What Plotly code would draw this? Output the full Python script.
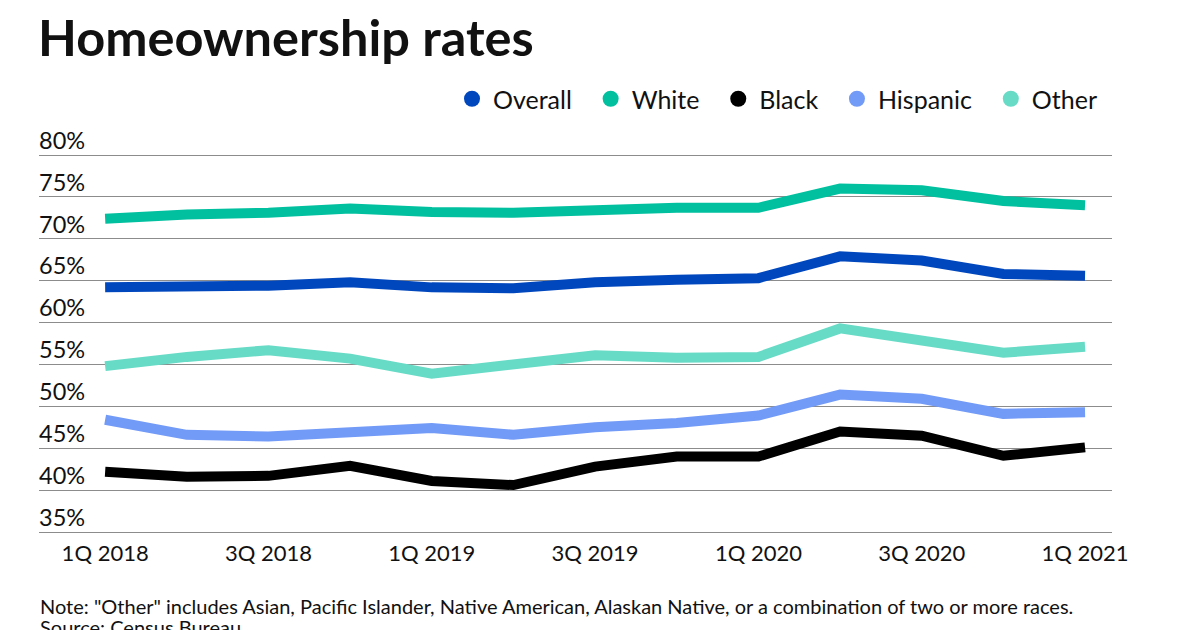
import plotly.graph_objects as go

quarters = ["1Q 2018", "2Q 2018", "3Q 2018", "4Q 2018", "1Q 2019", "2Q 2019", "3Q 2019",
            "4Q 2019", "1Q 2020", "2Q 2020", "3Q 2020", "4Q 2020", "1Q 2021"]
overall = [64.2, 64.3, 64.4, 64.8, 64.2, 64.1, 64.8, 65.1, 65.3, 67.9, 67.4, 65.8, 65.6]
white = [72.4, 72.9, 73.1, 73.6, 73.2, 73.1, 73.4, 73.7, 73.7, 76.0, 75.8, 74.5, 74.0]
black = [42.2, 41.6, 41.7, 42.9, 41.1, 40.6, 42.8, 44.0, 44.0, 47.0, 46.5, 44.1, 45.1]
hispanic = [48.4, 46.6, 46.4, 46.9, 47.4, 46.6, 47.5, 48.0, 48.9, 51.4, 50.9, 49.1, 49.3]
other = [54.8, 55.9, 56.7, 55.7, 53.9, 54.9, 56.1, 55.8, 55.9, 59.3, 57.9, 56.4, 57.1]

y_ticks = [35, 40, 45, 50, 55, 60, 65, 70, 75, 80]
y_tick_labels = ["35%", "40%", "45%", "50%", "55%", "60%", "65%", "70%", "75%", "80%"]
x_tick_idx = [0, 2, 4, 6, 8, 10, 12]

series = [
    ("Overall", overall, "#0047bd"),
    ("White", white, "#00c09f"),
    ("Black", black, "#000000"),
    ("Hispanic", hispanic, "#729af7"),
    ("Other", other, "#68dbc6"),
]

FONT = "Lato, 'Open Sans', sans-serif"
TXT = "#111111"
x_idx = list(range(len(quarters)))

# plot area in figure pixels
L, R, T, B = 31, 96, 113, 106
PW, PH = 1200 - L - R, 630 - T - B
Y_TOP = 80 + (147 - T) / 8.378

fig = go.Figure()
for name, vals, col in series:
    fig.add_trace(go.Scatter(x=x_idx, y=vals, mode="lines", name=name,
                             line=dict(color=col, width=10), showlegend=False,
                             hoverinfo="skip"))
n = len(series)
for i, (name, vals, col) in enumerate(series):
    label = name + ("\u00a0\u00a0" if i < n - 1 else "")
    fig.add_trace(go.Scatter(x=[None], y=[None], mode="markers", name=label,
                             marker=dict(color=col, size=16, symbol="circle"),
                             showlegend=True))

fig.update_layout(
    width=1200, height=630,
    margin=dict(l=L, r=R, t=T, b=B),
    paper_bgcolor="white", plot_bgcolor="white",
    font=dict(family=FONT, color=TXT),
    title=dict(text="<b>Homeownership rates</b>", x=30 / 1200, xanchor="left",
               xref="container", yref="container", y=1 - 30.5 / 630, yanchor="middle",
               font=dict(size=50.5, family=FONT, color=TXT)),
    legend=dict(orientation="h", x=(1094 - L) / PW, xanchor="right",
                y=1 + (T - 91) / PH, yanchor="middle",
                font=dict(size=25, family=FONT, color=TXT),
                itemsizing="trace", itemwidth=32, traceorder="normal"),
    showlegend=True,
)
fig.update_xaxes(
    range=[-0.81, 12.33], tickmode="array", tickvals=x_tick_idx,
    ticktext=[quarters[i] for i in x_tick_idx], showgrid=False, zeroline=False,
    showline=True, linecolor="#8c8c8c", linewidth=1, ticks="", ticklabelstandoff=2,
    tickfont=dict(size=22, family=FONT, color=TXT), fixedrange=True,
)
fig.update_yaxes(
    range=[35, Y_TOP], tickmode="array", tickvals=y_ticks, ticktext=y_tick_labels,
    showgrid=True, gridcolor="#8c8c8c", gridwidth=1, zeroline=False, showline=False,
    ticks="", ticklabelposition="inside top", ticklabelshift=2, ticklabelstandoff=-3,
    tickfont=dict(size=23.5, family=FONT, color=TXT), fixedrange=True,
)

fig.add_annotation(
    text='Note: "Other" includes Asian, Pacific Islander, Native American, Alaskan Native, or a combination of two or more races.',
    xref="paper", yref="paper", x=(30 - L) / PW, y=(630 - B - 598) / PH,
    xanchor="left", yanchor="middle", align="left", showarrow=False,
    font=dict(size=20, family=FONT, color=TXT),
)
fig.add_annotation(
    text="Source: Census Bureau",
    xref="paper", yref="paper", x=(30 - L) / PW, y=(630 - B - 619) / PH,
    xanchor="left", yanchor="middle", align="left", showarrow=False,
    font=dict(size=20, family=FONT, color=TXT),
)

fig.write_html("out.html")
